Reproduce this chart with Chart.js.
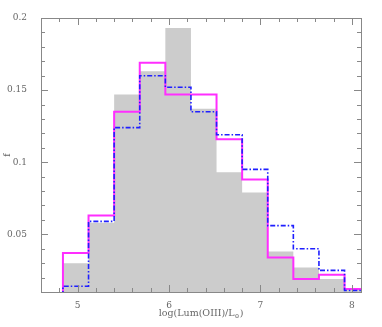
<!DOCTYPE html>
<html>
<head>
<meta charset="utf-8">
<script src="https://cdn.jsdelivr.net/npm/chart.js@4.4.1/dist/chart.umd.min.js"></script>
<style>
  html, body { margin: 0; padding: 0; background: #fff; }
</style>
</head>
<body>
<canvas id="histChart" width="382" height="327"></canvas>
<script>
// bin edges of the histograms, log(Lum(OIII)/Lsun)
const BIN_EDGES = [4.84, 5.12, 5.40, 5.68, 5.96, 6.24, 6.52, 6.80, 7.08, 7.36, 7.64, 7.92, 8.20];

// fractions per bin
const FRAC_GRAY    = [0.030, 0.058, 0.147, 0.163, 0.193, 0.137, 0.093, 0.079, 0.038, 0.027, 0.019, 0.012];
const FRAC_MAGENTA = [0.037, 0.063, 0.135, 0.169, 0.147, 0.147, 0.116, 0.088, 0.034, 0.019, 0.022, 0.012];
const FRAC_BLUE    = [0.014, 0.059, 0.124, 0.160, 0.152, 0.135, 0.119, 0.095, 0.056, 0.040, 0.025, 0.011];

const X_MIN = 4.6, X_MAX = 8.1, X_MINOR = 0.2;
const Y_MIN = 0.01, Y_MAX = 0.2, Y_MINOR = 0.01;
const X_MAJOR = [5, 6, 7, 8];
const Y_MAJOR = [0.05, 0.1, 0.15, 0.2];

const FONT = "'DejaVu Serif', serif";
const TEXT_COLOR = "#666";
const FRAME_COLOR = "#888";

// step outline: start at the floor, one point per left edge, close at last right edge
function stepPoints(values) {
    const pts = [{ x: BIN_EDGES[0], y: 0 }];
    values.forEach((v, i) => pts.push({ x: BIN_EDGES[i], y: v }));
    pts.push({ x: BIN_EDGES[BIN_EDGES.length - 1], y: values[values.length - 1] });
    return pts;
}

function minorValues(min, max, step) {
    const out = [];
    const start = Math.ceil(min / step - 1e-6);
    for (let k = start; k * step <= max + 1e-9; k++) out.push(Math.round(k * step * 1000) / 1000);
    return out;
}

// frame, inward ticks and x title with subscript
const framePlugin = {
    id: "frame",
    afterDatasetsDraw(chart) {
        const { ctx, chartArea: a, scales: { x, y } } = chart;
        ctx.save();
        ctx.strokeStyle = FRAME_COLOR;
        ctx.lineWidth = 1;
        ctx.strokeRect(Math.round(a.left) + 0.5, Math.round(a.top) + 0.5,
            Math.round(a.right - a.left), Math.round(a.bottom - a.top));

        ctx.beginPath();
        const tickX = (v, len) => {
            const px = Math.round(x.getPixelForValue(v)) + 0.5;
            ctx.moveTo(px, a.bottom); ctx.lineTo(px, a.bottom - len);
            ctx.moveTo(px, a.top); ctx.lineTo(px, a.top + len);
        };
        const tickY = (v, len) => {
            const py = Math.round(y.getPixelForValue(v)) + 0.5;
            ctx.moveTo(a.left, py); ctx.lineTo(a.left + len, py);
            ctx.moveTo(a.right, py); ctx.lineTo(a.right - len, py);
        };
        minorValues(X_MIN, X_MAX, X_MINOR).forEach(v => tickX(v, 4));
        X_MAJOR.forEach(v => tickX(v, 7));
        minorValues(Y_MIN, Y_MAX, Y_MINOR).forEach(v => tickY(v, 4));
        Y_MAJOR.forEach(v => tickY(v, 7));
        ctx.stroke();
        ctx.restore();
    },
    afterDraw(chart) {
        const { ctx, chartArea: a } = chart;
        ctx.save();
        ctx.fillStyle = TEXT_COLOR;
        ctx.textBaseline = "alphabetic";
        const main = "log(Lum(OIII)/L";
        const sub = "\u2299";
        const tail = ")";
        ctx.font = "9.5px " + FONT;
        const w1 = ctx.measureText(main).width;
        const w3 = ctx.measureText(tail).width;
        ctx.font = "6px " + FONT;
        const w2 = ctx.measureText(sub).width;
        const cx = (a.left + a.right) / 2;
        const base = 316;
        let px = cx - (w1 + w2 + w3) / 2;
        ctx.font = "9.5px " + FONT;
        ctx.fillText(main, px, base);
        px += w1;
        ctx.font = "6px " + FONT;
        ctx.fillText(sub, px, base + 2);
        px += w2;
        ctx.font = "9.5px " + FONT;
        ctx.fillText(tail, px, base);
        ctx.restore();
    }
};

new Chart(document.getElementById("histChart"), {
    type: "line",
    data: {
        datasets: [
            {
                label: "blue",
                data: stepPoints(FRAC_BLUE),
                stepped: "before",
                borderColor: "#1f1fff",
                borderWidth: 1.6,
                borderDash: [5, 2, 1.5, 2],
                pointRadius: 0,
                fill: false,
                clip: 0
            },
            {
                label: "magenta",
                data: stepPoints(FRAC_MAGENTA),
                stepped: "before",
                borderColor: "#ff2eff",
                borderWidth: 2,
                pointRadius: 0,
                fill: false,
                clip: 0
            },
            {
                label: "all",
                data: stepPoints(FRAC_GRAY),
                stepped: "before",
                borderColor: "rgba(0,0,0,0)",
                borderWidth: 0,
                backgroundColor: "#cccccc",
                pointRadius: 0,
                fill: "origin",
                clip: 0
            }
        ]
    },
    options: {
        responsive: false,
        animation: false,
        layout: { padding: { top: 18, right: 21, left: 0, bottom: 0 } },
        plugins: {
            legend: { display: false },
            tooltip: { enabled: false }
        },
        scales: {
            x: {
                type: "linear",
                min: X_MIN,
                max: X_MAX,
                grid: { display: false },
                border: { display: false },
                ticks: {
                    stepSize: 1,
                    includeBounds: false,
                    color: TEXT_COLOR,
                    font: { family: FONT, size: 9 },
                    padding: 0,
                    maxRotation: 0,
                    callback: v => String(v)
                },
                afterFit: s => { s.height = 35; }
            },
            y: {
                type: "linear",
                min: Y_MIN,
                max: Y_MAX,
                grid: { display: false },
                border: { display: false },
                title: {
                    display: true,
                    text: "f",
                    color: TEXT_COLOR,
                    font: { family: FONT, size: 9 },
                    padding: { top: 2, bottom: 0 }
                },
                ticks: {
                    stepSize: 0.05,
                    includeBounds: false,
                    color: TEXT_COLOR,
                    font: { family: FONT, size: 9 },
                    padding: 6,
                    callback: v => String(+v.toFixed(2))
                },
                afterFit: s => { s.width = 41; }
            }
        }
    },
    plugins: [framePlugin]
});
</script>
</body>
</html>
